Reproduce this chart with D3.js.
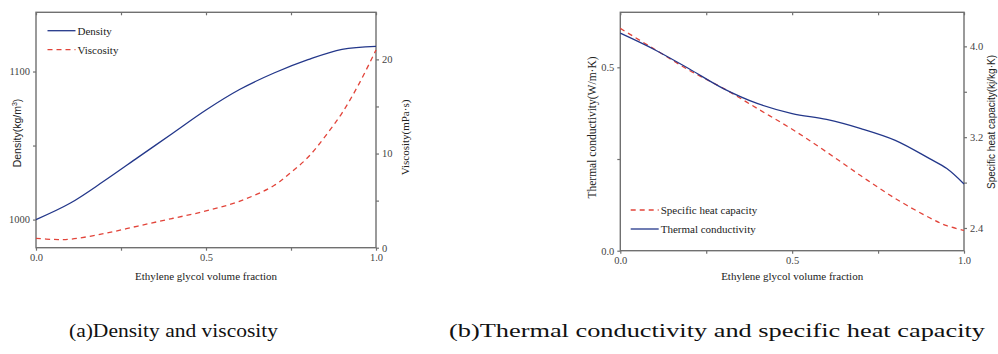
<!DOCTYPE html>
<html>
<head>
<meta charset="utf-8">
<script src="https://cdn.jsdelivr.net/npm/d3@7"></script>
<style>
  body { margin: 0; background: #fff; }
  svg { display: block; }
  .serif { font-family: "Liberation Serif", "Times New Roman", Times, serif; }
  .sans { font-family: "Liberation Sans", Arial, Helvetica, sans-serif; }
</style>
</head>
<body>
<div id="chart_div"></div>
<script>
// data
const fraction = [0, 0.1, 0.2, 0.3, 0.4, 0.5, 0.6, 0.7, 0.8, 0.9, 1.0];
const density = [1000, 1011, 1026, 1042, 1058, 1074, 1088, 1099, 1108, 1115, 1117];

const viscFraction = [0, 0.05, 0.1, 0.2, 0.3, 0.4, 0.5, 0.6, 0.7, 0.75, 0.8, 0.85, 0.9, 0.95, 1.0];
const viscosity = [1.0, 0.88, 0.9, 1.5, 2.3, 3.1, 3.9, 4.95, 6.6, 8.0, 9.6, 11.8, 14.3, 17.4, 21.0];

const condFraction = [0, 0.1, 0.2, 0.3, 0.4, 0.5, 0.6, 0.7, 0.8, 0.9, 0.95, 1.0];
const conductivity = [0.593, 0.548, 0.496, 0.442, 0.401, 0.374, 0.358, 0.333, 0.301, 0.251, 0.224, 0.182];
const heatCapacity = [4.158, 3.974, 3.79, 3.63, 3.45, 3.27, 3.07, 2.86, 2.66, 2.49, 2.42, 2.38];

const xTicks = [0, 0.25, 0.5, 0.75, 1.0];
const xTickLabels = ["0.0", "", "0.5", "", "1.0"];
const densityTicks = [1000, 1050, 1100];
const densityTickLabels = ["1000", "", "1100"];
const viscTicks = [0, 5, 10, 15, 20];
const viscTickLabels = ["0", "", "10", "", "20"];
const condTicks = [0, 0.25, 0.5];
const condTickLabels = ["0.0", "", "0.5"];
const cpTicks = [2.4, 2.8, 3.2, 3.6, 4.0];
const cpTickLabels = ["2.4", "", "3.2", "", "4.0"];

const blue = "#23378a";
const red = "#e2443a";
const axisColor = "#707070";

const svg = d3.select("#chart_div")
    .append("svg")
    .attr("width", 998)
    .attr("height", 354);

function fmt(labels, ticks) {
    return d => labels[ticks.indexOf(d)];
}

function drawPanel(p) {
    let xScale = d3.scaleLinear().domain([0, 1]).range([p.left, p.right]);
    let yLeft = d3.scaleLinear().domain(p.leftDomain).range([p.bottom, p.top]);
    let yRight = d3.scaleLinear().domain(p.rightDomain).range([p.bottom, p.top]);

    let g = svg.append("g");

    // frame
    g.append("rect")
        .attr("x", p.left).attr("y", p.top)
        .attr("width", p.right - p.left).attr("height", p.bottom - p.top)
        .attr("fill", "none").attr("stroke", axisColor).attr("stroke-width", 1.4);

    let styleAxis = function(sel) {
        sel.attr("font-family", null).attr("font-size", null);
        sel.select(".domain").remove();
        sel.selectAll(".tick line").attr("stroke", axisColor).attr("stroke-width", 1.2);
        sel.selectAll(".tick text")
            .attr("class", "serif")
            .attr("fill", "#444")
            .style("font-size", "10.5px");
    };

    g.append("g")
        .attr("transform", "translate(0," + p.bottom + ")")
        .call(d3.axisBottom(xScale).tickValues(xTicks).tickFormat(fmt(xTickLabels, xTicks)).tickSize(3).tickPadding(3))
        .call(styleAxis);

    g.append("g")
        .attr("transform", "translate(0," + p.top + ")")
        .call(d3.axisTop(xScale).tickValues(xTicks).tickFormat("").tickSize(-3))
        .call(styleAxis);

    g.append("g")
        .attr("transform", "translate(" + p.left + ",0)")
        .call(d3.axisLeft(yLeft).tickValues(p.leftTicks).tickFormat(fmt(p.leftTickLabels, p.leftTicks)).tickSize(3).tickPadding(3))
        .call(styleAxis);

    g.append("g")
        .attr("transform", "translate(" + p.right + ",0)")
        .call(d3.axisRight(yRight).tickValues(p.rightTicks).tickFormat(fmt(p.rightTickLabels, p.rightTicks)).tickSize(3).tickPadding(3))
        .call(styleAxis);

    // series
    p.series.forEach(function(s) {
        let y = s.axis === "left" ? yLeft : yRight;
        g.append("path")
            .datum(d3.zip(s.x, s.y))
            .attr("fill", "none")
            .attr("stroke", s.color)
            .attr("stroke-width", 1.3)
            .attr("stroke-dasharray", s.dashed ? "5,4" : null)
            .attr("d", d3.line()
                .curve(d3.curveCatmullRom.alpha(0.5))
                .x(d => xScale(d[0]))
                .y(d => y(d[1])));
    });

    // legend
    p.legend.forEach(function(l, i) {
        let ly = p.legendY + i * 19;
        g.append("line")
            .attr("x1", p.legendX).attr("x2", p.legendX + 28)
            .attr("y1", ly).attr("y2", ly)
            .attr("stroke", l.color).attr("stroke-width", 1.3)
            .attr("stroke-dasharray", l.dashed ? "5,4" : null);
        g.append("text")
            .attr("class", "serif")
            .attr("x", p.legendX + 30).attr("y", ly + 4)
            .attr("fill", "#222")
            .style("font-size", "11px")
            .text(l.name);
    });

    // axis titles
    g.append("text")
        .attr("class", "serif")
        .attr("x", (p.left + p.right) / 2).attr("y", 280)
        .attr("text-anchor", "middle")
        .attr("fill", "#222")
        .style("font-size", "11px")
        .text("Ethylene glycol volume fraction");

    let lt = g.append("text")
        .attr("class", p.leftTitleFont)
        .attr("transform", "translate(" + p.leftTitleX + "," + p.leftTitleY + ") rotate(-90)")
        .attr("text-anchor", "middle")
        .attr("fill", "#222")
        .style("font-size", p.leftTitleSize);
    p.leftTitle(lt);

    g.append("text")
        .attr("class", p.rightTitleFont)
        .attr("transform", "translate(" + p.rightTitleX + "," + p.rightTitleY + ") rotate(-90)")
        .attr("text-anchor", "middle")
        .attr("fill", "#222")
        .style("font-size", p.rightTitleSize)
        .text(p.rightTitle);
}

drawPanel({
    left: 36, right: 376, top: 12.3, bottom: 247.7,
    leftDomain: [981, 1140], rightDomain: [0, 25],
    leftTicks: densityTicks, leftTickLabels: densityTickLabels,
    rightTicks: viscTicks, rightTickLabels: viscTickLabels,
    series: [
        {x: fraction, y: density, axis: "left", color: blue, dashed: false},
        {x: viscFraction, y: viscosity, axis: "right", color: red, dashed: true}
    ],
    legend: [
        {name: "Density", color: blue, dashed: false},
        {name: "Viscosity", color: red, dashed: true}
    ],
    legendX: 47.5, legendY: 30.7,
    leftTitleX: 20.5, leftTitleY: 133, leftTitleFont: "sans", leftTitleSize: "10.5px",
    leftTitle: function(t) {
        t.append("tspan").text("Density(kg/m");
        t.append("tspan").attr("dy", -4).style("font-size", "7px").text("3");
        t.append("tspan").attr("dy", 4).text(")");
    },
    rightTitleX: 409, rightTitleY: 137.5, rightTitleFont: "serif", rightTitleSize: "11px",
    rightTitle: "Viscosity(mPa·s)"
});

drawPanel({
    left: 620.3, right: 964, top: 12.3, bottom: 250.7,
    leftDomain: [0, 0.65], rightDomain: [2.2, 4.3],
    leftTicks: condTicks, leftTickLabels: condTickLabels,
    rightTicks: cpTicks, rightTickLabels: cpTickLabels,
    series: [
        {x: condFraction, y: heatCapacity, axis: "right", color: red, dashed: true},
        {x: condFraction, y: conductivity, axis: "left", color: blue, dashed: false}
    ],
    legend: [
        {name: "Specific heat capacity", color: red, dashed: true},
        {name: "Thermal conductivity", color: blue, dashed: false}
    ],
    legendX: 630.7, legendY: 210,
    leftTitleX: 595.5, leftTitleY: 127.5, leftTitleFont: "serif", leftTitleSize: "11.5px",
    leftTitle: function(t) { t.text("Thermal conductivity(W/m·K)"); },
    rightTitleX: 995, rightTitleY: 122, rightTitleFont: "sans", rightTitleSize: "10px",
    rightTitle: "Specific heat capacity(kj/kg·K)"
});

// captions
svg.append("text")
    .attr("class", "serif")
    .attr("x", 69).attr("y", 337)
    .attr("textLength", 209).attr("lengthAdjust", "spacingAndGlyphs")
    .attr("fill", "#111")
    .style("font-size", "19px")
    .text("(a)Density and viscosity");

svg.append("text")
    .attr("class", "serif")
    .attr("x", 449).attr("y", 337)
    .attr("textLength", 536).attr("lengthAdjust", "spacingAndGlyphs")
    .attr("fill", "#111")
    .style("font-size", "19px")
    .text("(b)Thermal conductivity and specific heat capacity");
</script>
</body>
</html>
